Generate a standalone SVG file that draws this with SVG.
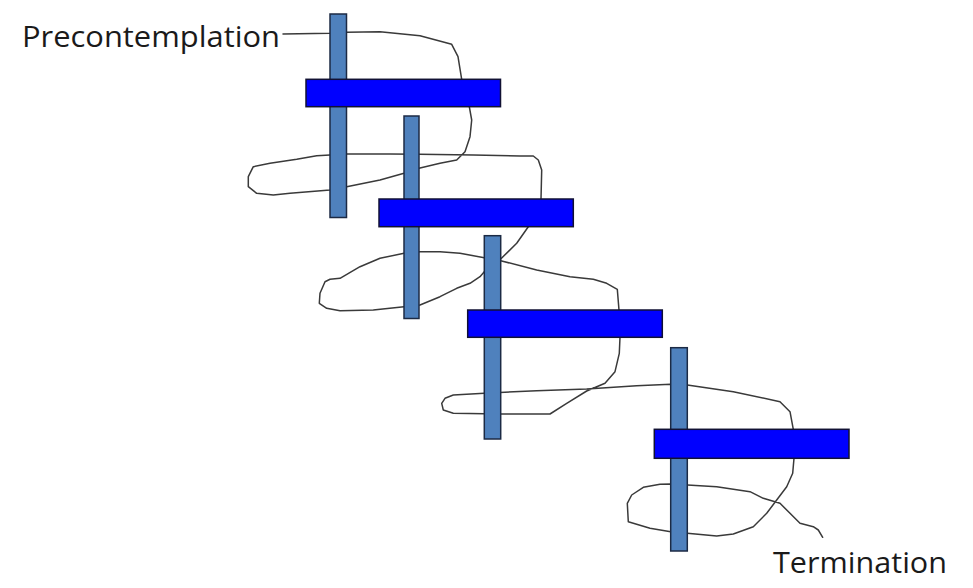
<svg xmlns="http://www.w3.org/2000/svg" width="973" height="588" viewBox="0 0 973 588">
<style>
.vbar{fill:#4f81bd;stroke:#1c2a44;stroke-width:1.5}
.hbar{fill:#0000ff;stroke:#111133;stroke-width:1.5}
.curve{fill:none;stroke:#3a3a3a;stroke-width:1.5;stroke-linejoin:round;stroke-linecap:round}
.lbl{font-family:"Open Sans","Liberation Sans",Arial,sans-serif;font-size:30px;fill:#1a1a1a}
</style>
<rect width="973" height="588" fill="#ffffff"/>
<g id="connectors">
<path class="curve" d="M283,34 L330,33.3 L346.7,32.3 L380,31.7 L420,35.7 L451.7,44.3 L458,56.7 L461.7,79.3 L465,95 L469.3,106.7 L471.7,120 L470,136.7 L465,151.7 L456.7,160 L440,163.3 L419,168.3 L404,173.3 L380,180 L346.7,186.7 L330,190 L290,193.3 L273.3,195 L256.7,193.3 L248.3,186.7 L248.3,176.7 L253.3,166.7 L270,163.3 L296.7,159.3 L316.7,155.7 L330,155 L346.7,154 L390,154 L419,154.3 L473.3,155 L520,156 L533.3,156 L538.3,160 L541.7,170 L541,199 L536,213 L528.3,226.7 L516.7,243.3 L500.7,259 L484.3,271.7 L480,276.7 L470,283.3 L456.7,288.3 L440,296.7 L420,305 L404,306.7 L373.3,310 L340,310.7 L326.7,308.3 L319.3,303.3 L320,293.3 L325,281.7 L330,279.3 L340,278.3 L360,266.7 L380,258.3 L404,253.3 L420,251.7 L440,251.7 L460,253.3 L484.3,257.7 L500.7,260.7 L536.7,270 L570,276.7 L593.3,279.3 L606.7,283.3 L617.3,289.3 L619,310 L620,337.3 L619.3,353.3 L615,371.7 L605,383.3 L586.7,391 L566.7,403.3 L550,414 L500.7,414 L453.3,413.3 L443.3,410 L441.7,403.3 L445,398.3 L453.3,395 L484.3,393.3 L536.7,390.7 L586.7,389 L636.7,385.7 L670.7,384.3 L687.3,385 L733.3,391.7 L780,401.7 L790,411.7 L793.3,429.3 L794,458.3 L792.7,473.3 L786.7,486.7 L776.7,500 L766.7,513.3 L753.3,526.7 L733.3,534 L716.7,536 L687.3,533.3 L670.7,531.7 L650,528.3 L628.3,521.7 L627.3,503.3 L631.7,495 L643.3,487.3 L660,484.3 L670.7,484 L716.7,486.7 L750,491.7 L763.3,498.3 L780,503.3 L790,513.3 L800,523.3 L813.3,526.7 L818.3,530 L822.7,537.3"/>
</g>
<g id="step1">
<rect class="vbar" x="330" y="14" width="16.5" height="203.5"/>
<rect class="hbar" x="306" y="79.3" width="194.5" height="27.4"/>
</g>
<g id="step2">
<rect class="vbar" x="404" y="116" width="15" height="202.5"/>
<rect class="hbar" x="379" y="199" width="194.3" height="27.7"/>
</g>
<g id="step3">
<rect class="vbar" x="484.3" y="235.7" width="16.4" height="203.3"/>
<rect class="hbar" x="467.7" y="310" width="194.6" height="27.3"/>
</g>
<g id="step4">
<rect class="vbar" x="670.7" y="347.7" width="16.6" height="203.3"/>
<rect class="hbar" x="654.3" y="429.3" width="194.7" height="29"/>
</g>
<g id="label-precontemplation">
<text class="lbl" x="22" y="46.5" textLength="258" lengthAdjust="spacingAndGlyphs">Precontemplation</text>
</g>
<g id="label-termination">
<text class="lbl" x="773" y="573.3" textLength="174" lengthAdjust="spacingAndGlyphs">Termination</text>
</g>
</svg>
